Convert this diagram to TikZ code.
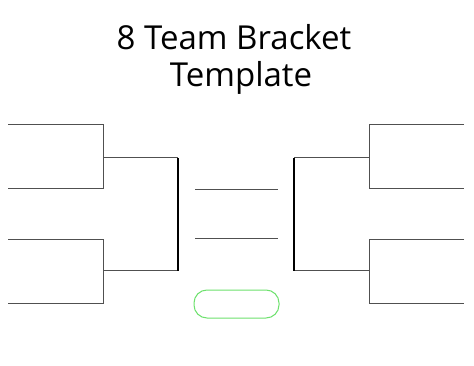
\documentclass[tikz,border=0pt]{standalone}
\usepackage{fontspec}
\setmainfont{Open Sans}
\definecolor{linegray}{RGB}{80,80,80}
\definecolor{boxgreen}{RGB}{110,225,110}
\begin{document}
\begin{tikzpicture}[x=1pt,y=-1pt,
  slot/.style={draw=linegray,line width=1pt},
  final/.style={draw=black,line width=1.4pt},
  champ/.style={draw=boxgreen,line width=1pt,rounded corners=13pt},
  title/.style={font=\fontsize{33}{38}\selectfont,inner sep=0pt,anchor=base}]
\useasboundingbox[fill=white] (0,0) rectangle (474,366);
\node[title] (t1) at (234,50) {8 Team Bracket};
\node[title] (t2) at (241,87) {Template};
% left side
\coordinate (l1a) at (8,125); \coordinate (l1b) at (103,125);
\coordinate (l2a) at (8,189); \coordinate (l2b) at (103,189);
\coordinate (l3a) at (8,240); \coordinate (l3b) at (103,240);
\coordinate (l4a) at (8,303); \coordinate (l4b) at (103,303);
\coordinate (ls1) at (103,158); \coordinate (ls1e) at (178,158);
\coordinate (ls2) at (103,271); \coordinate (ls2e) at (178,271);
\draw[slot] (l1a) -- (l1b) -- (l2b) -- (l2a);
\draw[slot] (l3a) -- (l3b) -- (l4b) -- (l4a);
\draw[slot] (ls1) -- (ls1e);
\draw[slot] (ls2) -- (ls2e);
\draw[final] (ls1e) -- (ls2e);
% right side
\coordinate (r1a) at (464,125); \coordinate (r1b) at (369,125);
\coordinate (r2a) at (464,189); \coordinate (r2b) at (369,189);
\coordinate (r3a) at (464,240); \coordinate (r3b) at (369,240);
\coordinate (r4a) at (464,303); \coordinate (r4b) at (369,303);
\coordinate (rs1) at (369,158); \coordinate (rs1e) at (294,158);
\coordinate (rs2) at (369,271); \coordinate (rs2e) at (294,271);
\draw[slot] (r1a) -- (r1b) -- (r2b) -- (r2a);
\draw[slot] (r3a) -- (r3b) -- (r4b) -- (r4a);
\draw[slot] (rs1) -- (rs1e);
\draw[slot] (rs2) -- (rs2e);
\draw[final] (rs1e) -- (rs2e);
% center
\coordinate (c1a) at (195,190); \coordinate (c1b) at (278,190);
\coordinate (c2a) at (195,239); \coordinate (c2b) at (278,239);
\draw[slot] (c1a) -- (c1b);
\draw[slot] (c2a) -- (c2b);
\draw[champ] (194,290) rectangle (279,318);
\end{tikzpicture}
\end{document}
